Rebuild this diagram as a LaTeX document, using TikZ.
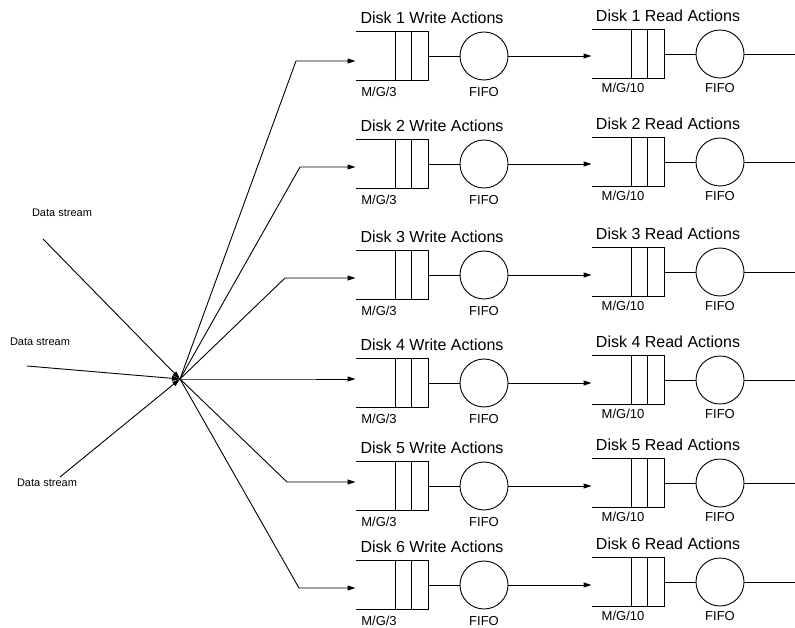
\documentclass[tikz,border=0pt]{standalone}
\usepackage{fontspec}
\setmainfont{Liberation Sans}
\usetikzlibrary{arrows.meta}

% open-ended queue: top, right and bottom sides plus two slot dividers
\newcommand\openqueue[1]{%
  \draw (#1.north west) -- (#1.north east) -- (#1.south east) -- (#1.south west);
  \draw ([xshift=40pt]#1.north west) -- ([xshift=40pt]#1.south west);
  \draw ([xshift=56pt]#1.north west) -- ([xshift=56pt]#1.south west);
}

\begin{document}
\begin{tikzpicture}[x=1pt,y=-1pt,line width=0.9pt,
  flow/.style={-{Triangle[length=8pt,width=5pt]}},
  queue/.style={rectangle,minimum width=72pt,minimum height=48pt,inner sep=0pt},
  server/.style={circle,draw,minimum size=48pt,inner sep=0pt},
  title/.style={font=\fontsize{16}{18}\selectfont,inner sep=0pt},
  tag/.style={font=\fontsize{13}{15}\selectfont,inner sep=0pt},
  src/.style={font=\fontsize{11}{13}\selectfont,inner sep=0pt}]

\useasboundingbox (0,0) rectangle (795,628);

% incoming data streams meeting at the hub
\coordinate (hub) at (180,379);
\node[src] (ds1) at (62,213) {Data stream};
\node[src] (ds2) at (40,342) {Data stream};
\node[src] (ds3) at (47,483) {Data stream};
\coordinate (s1) at (43,239);
\coordinate (s2) at (27,366);
\coordinate (s3) at (60,477);
\draw[flow] (s1) -- (hub);
\draw[flow] (s2) -- (hub);
\draw[flow] (s3) -- (hub);

% one write stage and one read stage per disk
\foreach \i/\wy/\ry/\ay/\bx in {1/56/54/61/296, 2/164/162/167/300,
    3/275/272/278/285, 4/383/380/379/285, 5/486/483/482/287, 6/585/582/588/299}{
  % write stage
  \node[title] (wt\i) at (432,{\wy-38}) {Disk \i\ Write Actions};
  \node[queue] (wq\i) at (392,\wy) {};
  \openqueue{wq\i}
  \node[server] (wc\i) at (484,\wy) {};
  \node[tag] (wl\i) at (379,{\wy+36}) {M/G/3};
  \node[tag] (wf\i) at (484,{\wy+36}) {FIFO};
  \draw (wq\i.east) -- (wc\i.west);
  % read stage
  \node[title] (rt\i) at (668,{\ry-38}) {Disk \i\ Read Actions};
  \node[queue] (rq\i) at (628,\ry) {};
  \openqueue{rq\i}
  \node[server] (rc\i) at (720,\ry) {};
  \node[tag] (rl\i) at (623,{\ry+34}) {M/G/10};
  \node[tag] (rf\i) at (720,{\ry+34}) {FIFO};
  \draw (rq\i.east) -- (rc\i.west);
  \coordinate (out\i) at (795,\ry);
  \draw (rc\i.east) -- (out\i);
  % write server feeds read queue
  \draw[flow] (wc\i.east) -- (wc\i.east -| rq\i.west);
  % hub fans out to each write queue
  \coordinate (b\i) at (\bx,\ay);
  \draw[flow] (hub) -- (b\i) -- (b\i -| wq\i.west);
}
\end{tikzpicture}
\end{document}
